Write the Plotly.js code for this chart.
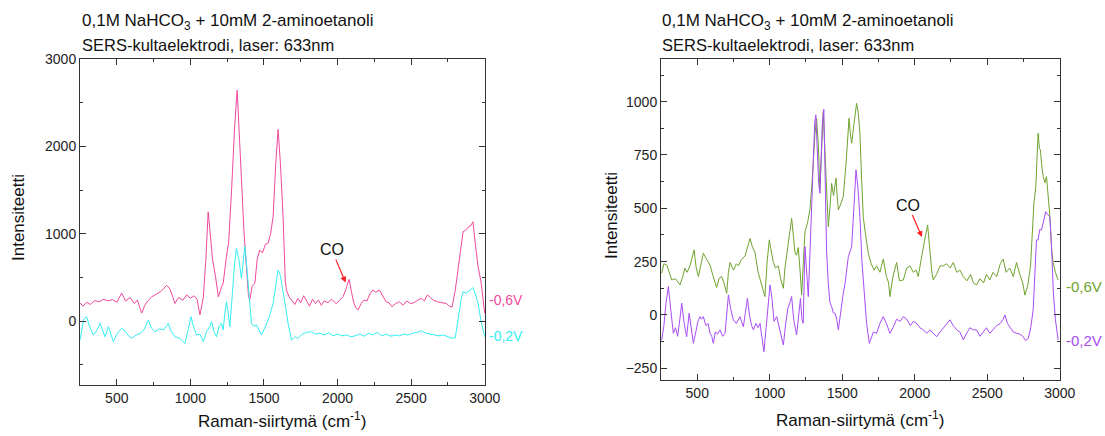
<!DOCTYPE html>
<html>
<head>
<meta charset="utf-8">
<script src="https://cdn.plot.ly/plotly-3.0.1.min.js"></script>
<style>html,body{margin:0;padding:0;background:#fff;}#chart{width:1105px;height:436px;}</style>
</head>
<body>
<div id="chart"></div>
<script>
// Left panel: -0,6V (pink)
const leftP_x = [250,270,295,320,350,380,410,440,470,500,533,560,590,620,640,669,690,710,740,770,800,839,860,880,895,920,950,975,1000,1025,1045,1065,1088,1105,1121,1135,1151,1170,1190,1210,1223,1245,1260,1280,1300,1318,1332,1347,1365,1381,1395,1404,1420,1438,1455,1472,1490,1510,1528,1545,1562,1580,1596,1612,1630,1645,1653,1670,1690,1710,1730,1750,1770,1790,1810,1830,1850,1870,1890,1910,1935,1960,1990,2015,2038,2060,2079,2095,2110,2125,2140,2160,2180,2200,2220,2240,2260,2285,2305,2330,2350,2370,2395,2420,2445,2470,2495,2520,2545,2570,2590,2610,2630,2650,2680,2710,2740,2760,2778,2800,2825,2853,2870,2890,2905,2920,2935,2955,2975,2990,3000];
const leftP_y = [210,170,215,190,235,220,250,230,245,215,320,230,270,200,240,90,180,230,280,310,340,410,370,280,200,270,240,300,260,290,250,70,270,700,1251,1000,700,520,278,380,433,737,900,1500,2200,2645,2100,1580,1000,622,280,240,400,433,720,813,780,880,890,1000,1194,1800,2195,1800,1194,450,355,280,240,190,260,210,290,230,170,250,200,240,180,230,210,250,200,240,280,380,477,330,210,150,126,200,240,230,310,355,330,355,300,220,210,164,200,220,180,230,200,210,240,260,230,300,270,240,220,210,200,170,160,355,700,1023,1040,1080,1090,1137,900,622,450,250,90];
// Left panel: -0,2V (cyan)
const leftC_x = [250,275,295,315,340,360,386,405,420,443,460,477,500,533,560,580,601,630,658,685,714,735,760,790,816,850,870,895,930,963,985,1004,1020,1043,1065,1088,1110,1130,1144,1160,1178,1195,1211,1223,1235,1245,1258,1268,1285,1300,1313,1330,1347,1360,1370,1382,1393,1405,1415,1432,1449,1465,1483,1505,1528,1545,1562,1580,1596,1612,1630,1648,1664,1678,1687,1710,1730,1760,1790,1820,1850,1880,1910,1940,1970,2000,2030,2060,2090,2120,2150,2180,2210,2240,2270,2300,2330,2360,2390,2420,2450,2480,2510,2540,2570,2600,2630,2660,2690,2720,2750,2780,2800,2820,2840,2853,2870,2890,2905,2920,2935,2955,2975,3000];
const leftC_y = [-218,20,50,-60,-160,-120,-27,-120,-180,-65,-150,-237,-150,-84,-120,-170,-199,-160,-141,-100,11,-80,-122,-90,-103,-27,-120,-180,-200,-256,-100,50,-60,-160,-150,-237,-120,-70,-8,-120,-180,-60,-27,-100,100,221,80,-65,300,650,832,700,488,700,851,650,431,150,-27,-60,-46,-100,-160,-80,11,100,202,400,584,520,355,150,-27,-150,-218,-180,-200,-150,-130,-122,-150,-140,-160,-135,-170,-150,-170,-160,-180,-170,-150,-175,-140,-160,-130,-170,-150,-175,-160,-170,-150,-160,-140,-130,-110,-140,-150,-165,-170,-160,-180,-199,-190,50,250,336,320,340,360,382,320,202,0,-180];
// Right panel: -0,6V (green)
const rightG_x = [255,270,290,305,324,350,381,400,415,430,450,478,493,508,525,542,565,588,610,634,650,668,685,703,715,726,750,770,784,805,830,850,864,880,898,920,944,955,967,982,997,1010,1025,1040,1059,1075,1094,1105,1117,1135,1151,1162,1174,1185,1197,1210,1220,1232,1243,1260,1277,1290,1300,1312,1323,1335,1346,1358,1369,1385,1404,1415,1427,1440,1457,1465,1473,1490,1507,1525,1547,1556,1565,1582,1599,1610,1622,1633,1645,1660,1680,1700,1720,1737,1760,1783,1805,1820,1829,1850,1875,1895,1921,1945,1967,1990,2010,2024,2047,2068,2089,2105,2118,2128,2150,2175,2197,2220,2245,2266,2290,2312,2335,2360,2385,2405,2426,2450,2475,2495,2518,2540,2565,2590,2610,2630,2655,2680,2702,2725,2745,2760,2780,2799,2810,2822,2835,2851,2860,2867,2876,2886,2898,2909,2920,2932,2945,2955,2970,2989];
const rightG_y = [195,240,234,200,164,170,141,180,219,200,230,305,220,180,240,289,260,234,180,129,170,180,150,101,200,246,210,240,230,260,277,330,359,320,293,200,141,110,86,250,352,300,246,220,230,170,125,220,277,380,453,380,293,280,316,200,93,250,391,430,492,600,727,850,922,800,586,800,953,700,414,500,617,560,641,560,492,520,555,700,922,850,805,900,992,950,852,650,461,380,289,240,210,230,200,262,180,150,86,180,246,160,164,220,230,200,210,180,277,350,422,300,200,164,190,230,230,240,220,246,200,210,180,160,190,150,141,170,150,190,164,200,180,240,262,200,220,180,246,190,150,93,140,230,400,524,600,852,780,774,700,649,620,649,560,461,300,246,200,164];
// Right panel: -0,2V (purple)
const rightV_x = [255,270,285,301,318,335,350,365,380,393,410,427,444,460,473,490,505,519,530,542,560,575,588,600,611,625,640,657,675,692,705,715,730,749,770,795,805,818,832,846,860,875,887,905,920,933,945,960,975,990,1002,1015,1030,1048,1065,1080,1094,1110,1125,1140,1151,1165,1185,1200,1212,1222,1231,1243,1255,1266,1278,1289,1300,1310,1318,1328,1337,1346,1355,1363,1373,1382,1392,1404,1415,1427,1438,1450,1462,1473,1490,1507,1520,1542,1555,1565,1580,1595,1608,1622,1636,1650,1668,1687,1700,1715,1737,1760,1783,1805,1829,1850,1875,1900,1921,1945,1970,1990,2013,2035,2060,2082,2105,2130,2151,2175,2200,2220,2243,2265,2290,2312,2335,2355,2380,2405,2426,2450,2475,2495,2518,2540,2565,2590,2610,2622,2640,2660,2680,2702,2725,2745,2765,2783,2800,2817,2830,2840,2851,2862,2874,2890,2904,2918,2932,2945,2955,2970,2989];
const rightV_y = [-117,-50,60,133,20,-86,-60,-100,-20,55,-40,-102,8,-60,-133,-80,-30,-8,-20,-8,-50,-40,-86,-100,-133,-80,-90,-70,-100,-86,0,94,30,-23,-40,-8,-30,-55,10,78,0,-50,-70,-40,-60,-39,-100,-172,-60,60,141,80,-30,-8,-60,-100,-141,-40,30,60,86,-20,-94,0,78,-20,-39,320,200,86,300,539,750,900,938,800,620,570,750,900,964,650,300,148,60,39,10,8,-20,-70,30,101,150,273,300,320,500,680,600,461,250,101,-40,-133,-110,-80,-86,-40,-8,-40,-86,-60,-20,-30,-8,-20,-50,-30,-39,-60,-70,-86,-70,-90,-102,-80,-60,-40,-23,-50,-70,-80,-117,-90,-60,-70,-70,-100,-80,-60,-86,-70,-50,-40,-20,0,-40,-60,-80,-86,-90,-100,-120,-110,-60,23,200,352,352,400,398,450,484,470,461,300,117,-20,-117];

const titleLine1 = '0,1M NaHCO<sub>3</sub> + 10mM 2-aminoetanoli';
const titleLine2 = 'SERS-kultaelektrodi, laser: 633nm';
const yTitle = 'Intensiteetti';
const xTitle = 'Raman-siirtymä (cm<sup>-1</sup>)';
const seriesLabels = ['-0,6V', '-0,2V'];

const FONT = 'Arial, "Liberation Sans", sans-serif';
const cPink = '#f0489c', cCyan = '#33eef2', cGreen = '#6fa32e', cPurple = '#a84cf5';

const traces = [
  {x: leftP_x, y: leftP_y, xaxis: 'x', yaxis: 'y', mode: 'lines', line: {color: cPink, width: 1}},
  {x: leftC_x, y: leftC_y, xaxis: 'x', yaxis: 'y', mode: 'lines', line: {color: cCyan, width: 1}},
  {x: rightG_x, y: rightG_y, xaxis: 'x2', yaxis: 'y2', mode: 'lines', line: {color: cGreen, width: 1}},
  {x: rightV_x, y: rightV_y, xaxis: 'x2', yaxis: 'y2', mode: 'lines', line: {color: cPurple, width: 1}}
];

function axisBase(extra) {
  return Object.assign({
    showgrid: false, zeroline: false, showline: true, linecolor: '#333', linewidth: 1,
    mirror: 'ticks', ticks: 'inside', ticklen: 6, tickcolor: '#333', tickwidth: 1,
    tickfont: {family: FONT, size: 14, color: '#222'}
  }, extra);
}

const W = 1105, H = 436;
const layout = {
  width: W, height: H,
  margin: {l: 0, r: 0, t: 0, b: 0},
  paper_bgcolor: '#fff', plot_bgcolor: '#fff',
  showlegend: false,
  xaxis: axisBase({domain: [80/W, 485/W], anchor: 'y', range: [250, 3002], dtick: 500, tick0: 0,
    minor: {ticks: 'inside', dtick: 250, tick0: 0, ticklen: 3, tickcolor: '#333'}}),
  yaxis: axisBase({domain: [1-385/H, 1-59/H], anchor: 'x', range: [-733, 3002], dtick: 1000, tick0: 0,
    minor: {ticks: 'inside', dtick: 500, tick0: 0, ticklen: 3, tickcolor: '#333'}}),
  xaxis2: axisBase({domain: [661/W, 1060/W], anchor: 'y2', range: [250, 3002], dtick: 500, tick0: 0,
    minor: {ticks: 'inside', dtick: 250, tick0: 0, ticklen: 3, tickcolor: '#333'}}),
  yaxis2: axisBase({domain: [1-380/H, 1-59/H], anchor: 'x2', range: [-305, 1200], dtick: 250, tick0: 0,
    minor: {ticks: 'inside', dtick: 125, tick0: 0, ticklen: 3, tickcolor: '#333'}}),
  annotations: [
    {xref: 'paper', yref: 'paper', x: 80/W, y: 1-22/H, xanchor: 'left', yanchor: 'middle', showarrow: false, text: titleLine1, font: {family: FONT, size: 17, color: '#111'}},
    {xref: 'paper', yref: 'paper', x: 80/W, y: 1-45/H, xanchor: 'left', yanchor: 'middle', showarrow: false, text: titleLine2, font: {family: FONT, size: 16.5, color: '#111'}},
    {xref: 'paper', yref: 'paper', x: 660/W, y: 1-22/H, xanchor: 'left', yanchor: 'middle', showarrow: false, text: titleLine1, font: {family: FONT, size: 17, color: '#111'}},
    {xref: 'paper', yref: 'paper', x: 660/W, y: 1-45/H, xanchor: 'left', yanchor: 'middle', showarrow: false, text: titleLine2, font: {family: FONT, size: 16.5, color: '#111'}},
    {xref: 'paper', yref: 'paper', x: 18/W, y: 1-218/H, xanchor: 'center', yanchor: 'middle', textangle: -90, showarrow: false, text: yTitle, font: {family: FONT, size: 17, color: '#111'}},
    {xref: 'paper', yref: 'paper', x: 611/W, y: 1-216/H, xanchor: 'center', yanchor: 'middle', textangle: -90, showarrow: false, text: yTitle, font: {family: FONT, size: 17, color: '#111'}},
    {xref: 'paper', yref: 'paper', x: 282/W, y: 1-433/H, xanchor: 'center', yanchor: 'bottom', showarrow: false, text: xTitle, font: {family: FONT, size: 17, color: '#111'}},
    {xref: 'paper', yref: 'paper', x: 860/W, y: 1-432/H, xanchor: 'center', yanchor: 'bottom', showarrow: false, text: xTitle, font: {family: FONT, size: 17, color: '#111'}},
    {xref: 'paper', yref: 'paper', x: 487/W, y: 1-300/H, xanchor: 'left', yanchor: 'middle', showarrow: false, text: seriesLabels[0], font: {family: FONT, size: 14, color: cPink}},
    {xref: 'paper', yref: 'paper', x: 487/W, y: 1-336/H, xanchor: 'left', yanchor: 'middle', showarrow: false, text: seriesLabels[1], font: {family: FONT, size: 14, color: cCyan}},
    {xref: 'paper', yref: 'paper', x: 1064/W, y: 1-286/H, xanchor: 'left', yanchor: 'middle', showarrow: false, text: seriesLabels[0], font: {family: FONT, size: 15, color: cGreen}},
    {xref: 'paper', yref: 'paper', x: 1064/W, y: 1-340/H, xanchor: 'left', yanchor: 'middle', showarrow: false, text: seriesLabels[1], font: {family: FONT, size: 15, color: cPurple}},
    {xref: 'x', yref: 'y', x: 2055, y: 440, ax: -14, ay: -33, text: 'CO', showarrow: true, arrowhead: 2, arrowsize: 1, arrowwidth: 1.2, arrowcolor: '#ff2020', standoff: 0, font: {family: FONT, size: 16, color: '#111'}},
    {xref: 'x2', yref: 'y2', x: 2050, y: 365, ax: -14, ay: -32, text: 'CO', showarrow: true, arrowhead: 2, arrowsize: 1, arrowwidth: 1.2, arrowcolor: '#ff2020', standoff: 0, font: {family: FONT, size: 16, color: '#111'}}
  ]
};

Plotly.newPlot('chart', traces, layout, {staticPlot: true, displayModeBar: false});
</script>
</body>
</html>
